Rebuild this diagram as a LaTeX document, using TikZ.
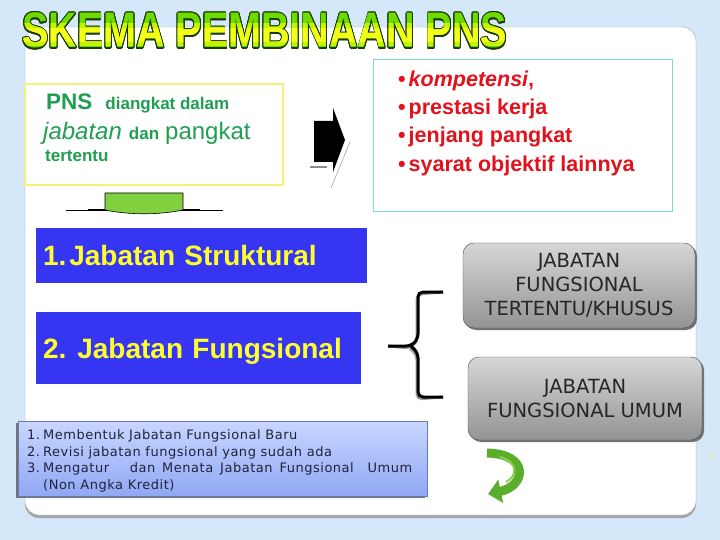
\documentclass[tikz,border=0pt]{standalone}
\usepackage{fontspec}
\setmainfont{Liberation Sans}
\newfontfamily\tahoma{DejaVu Sans}
\newfontfamily\tahomawide[LetterSpace=4]{DejaVu Sans}
\usepackage{contour}
\usetikzlibrary{shadows,arrows.meta}
\contourlength{1.1pt}
\definecolor{bgblue}{HTML}{D5E8FA}
\definecolor{titleline}{HTML}{1E3A0A}
\definecolor{titlegreen}{HTML}{6CDC00}
\definecolor{titlemid}{HTML}{C4F400}
\definecolor{titlehigh}{HTML}{F4FF18}
\definecolor{pnsyellow}{HTML}{F4F07A}
\definecolor{pnsgreen}{HTML}{1F9F50}
\definecolor{tealline}{HTML}{80D8D0}
\definecolor{kritred}{HTML}{E2121C}
\definecolor{jabblue}{HTML}{3535F2}
\definecolor{jabyellow}{HTML}{FFFF30}
\definecolor{dropgreen}{HTML}{80D040}
\definecolor{curlgreen}{HTML}{5AAE2C}
\definecolor{curllight}{HTML}{8CD050}
\definecolor{listtop}{HTML}{C8D6FF}
\definecolor{listbot}{HTML}{90A8F4}
\definecolor{listline}{HTML}{6878B8}
\definecolor{listink}{HTML}{20243A}
\definecolor{pagenum}{HTML}{DCEF80}
\tikzset{
  panel/.style={draw=black!35, fill=white, rounded corners=14pt,
    drop shadow={shadow xshift=0pt, shadow yshift=-3pt, fill=black!35, opacity=1}},
  titletext/.style={anchor=base west, inner sep=0pt, font=\bfseries\fontsize{50}{50}\selectfont},
  pnsbox/.style={draw=pnsyellow, line width=1.2pt, fill=white, inner sep=0pt,
    minimum width=258pt, minimum height=101pt},
  pnstext/.style={anchor=base west, inner sep=0pt, text=pnsgreen, font=\bfseries},
  kritbox/.style={draw=tealline, line width=1pt, fill=white, inner sep=0pt,
    minimum width=299pt, minimum height=152pt},
  krittext/.style={anchor=base west, inner sep=0pt, text=kritred,
    font=\bfseries\fontsize{21.5}{21.5}\selectfont},
  jabbox/.style={fill=jabblue, text=jabyellow, align=left, inner xsep=7pt,
    text height=20pt, text depth=0pt, font=\bfseries\fontsize{28}{28}\selectfont},
  graybox/.style={draw=black!70, rounded corners=11pt, top color=black!16, bottom color=black!42,
    align=center, text=black!85, font=\tahoma\fontsize{19.5}{24}\selectfont,
    drop shadow={shadow xshift=2pt, shadow yshift=-2pt, fill=black!55, opacity=1}},
  bracket/.style={line width=3pt, rounded corners=5pt},
  listbox/.style={draw=listline, top color=listtop, bottom color=listbot, inner sep=0pt,
    minimum width=409pt, minimum height=75pt,
    drop shadow={shadow xshift=-2pt, shadow yshift=-2pt, fill=black!55, opacity=1}},
  listtext/.style={anchor=base west, inner sep=0pt, text=listink, font=\tahomawide\fontsize{13}{13}\selectfont},
  curlarrow/.style={draw=curlgreen, line width=9pt, -{Triangle[width=23pt,length=13pt]}}
}
\begin{document}
\begin{tikzpicture}[x=1pt,y=-1pt]
  \useasboundingbox (0,0) rectangle (720,540);
  \fill[bgblue] (0,0) rectangle (720,540);
  \path[panel] (25,27) rectangle (696,515);

  \node[titletext] (title) at (22,48)
    {\scalebox{0.79}[1]{\contour{titleline}{\textcolor{titlegreen}{SKEMA PEMBINAAN PNS}}}};
  \begin{scope}
    \clip (0,24) rectangle (720,46);
    \node[titletext] (titleMid) at (22,48)
      {\scalebox{0.79}[1]{\textcolor{titlemid}{SKEMA PEMBINAAN PNS}}};
  \end{scope}
  \begin{scope}
    \clip (0,29) rectangle (720,42);
    \node[titletext] (titleHigh) at (22,48)
      {\scalebox{0.79}[1]{\textcolor{titlehigh}{SKEMA PEMBINAAN PNS}}};
  \end{scope}

  \node[pnsbox] (pnsBox) at (154,134.5) {};
  \node[pnstext] (pnsA) at (46,110)
    {{\fontsize{22.5}{22}\selectfont PNS}\hspace{13pt}{\fontsize{17}{17}\selectfont diangkat dalam}};
  \node[pnstext] (pnsB) at (43,140)
    {{\mdseries\itshape\fontsize{24}{24}\selectfont jabatan}\hspace{7pt}{\fontsize{17}{17}\selectfont dan}\hspace{6pt}{\mdseries\fontsize{24}{24}\selectfont pangkat}};
  \node[pnstext] (pnsC) at (45,162) {\fontsize{17}{17}\selectfont tertentu};

  \draw[line width=0.5pt] (66,210) -- (223,210);
  \draw[line width=1.5pt] (88,210) -- (200,210);
  \filldraw[fill=dropgreen, draw=black, line width=0.6pt]
    (105,193) -- (183,193) -- (183,210) .. controls (160,215) and (128,215) .. (105,210) -- cycle;

  \fill[black] (314,121) -- (333,121) -- (333,108) -- (345,140) -- (333,172) -- (333,162) -- (314,162) -- cycle;
  \draw[black!45, line width=2pt] (310,167) -- (327,167);
  \draw[black!40, line width=0.5pt] (350,142) -- (331,188);

  \node[kritbox] (kritBox) at (522.5,136) {};
  \node[krittext] (kritA) at (398,86.5) {•\kern3pt\textit{kompetensi},};
  \node[krittext] (kritB) at (398,114.5) {•\kern3pt prestasi kerja};
  \node[krittext] (kritC) at (398,143) {•\kern3pt jenjang pangkat};
  \node[krittext] (kritD) at (398,171.5) {•\kern3pt syarat objektif lainnya};

  \node[jabbox, minimum width=331pt, minimum height=55pt, text width=317pt] (struk) at (201.5,255.5)
    {1.\kern3pt Jabatan Struktural};
  \node[jabbox, minimum width=325pt, minimum height=72pt, text width=311pt] (fungsi) at (198.5,348)
    {2.\kern11pt Jabatan Fungsional};

  \node[graybox, minimum width=232pt, minimum height=85pt] (jft) at (579,285.5)
    {JABATAN\\FUNGSIONAL\\TERTENTU/KHUSUS};
  \node[graybox, minimum width=234pt, minimum height=83pt] (jfu) at (585,398.5)
    {JABATAN\\FUNGSIONAL UMUM};

  \coordinate (brTop) at (443,292);
  \coordinate (brMid) at (388,346);
  \coordinate (brBot) at (443,397);
  \begin{scope}[black!40, bracket, xshift=-1pt, yshift=-2pt]
    \draw (brTop) -- (418,292) -- (418,339) -- (411,346) -- (brMid);
    \draw (411,346) -- (418,353) -- (418,397) -- (brBot);
  \end{scope}
  \draw[bracket] (brTop) -- (418,292) -- (418,339) -- (411,346) -- (brMid);
  \draw[bracket] (411,346) -- (418,353) -- (418,397) -- (brBot);

  \node[listbox] (lstBox) at (222.5,458.5) {};
  \node[listtext] (lstA) at (27,439.5) {\makebox[16pt][l]{1.}Membentuk Jabatan Fungsional Baru};
  \node[listtext] (lstB) at (27,456) {\makebox[16pt][l]{2.}Revisi jabatan fungsional yang sudah ada};
  \node[listtext] (lstC) at (27,472.5)
    {\makebox[16pt][l]{3.}\makebox[369pt][s]{Mengatur\ \ \ dan Menata Jabatan Fungsional\ \ Umum}};
  \node[listtext] (lstD) at (43,489) {(Non Angka Kredit)};

  \coordinate (curlA) at (487,453);
  \coordinate (curlB) at (488,494);
  \draw[curlarrow] (curlA) .. controls (530,454) and (526,486) .. (curlB);
  \draw[curllight, line width=2pt] (500,457) .. controls (518,462) and (518,476) .. (506,482);

  \node[inner sep=0pt, text=pagenum, font=\fontsize{8}{8}\selectfont] (pgNum) at (712,456) {3};
\end{tikzpicture}
\end{document}
